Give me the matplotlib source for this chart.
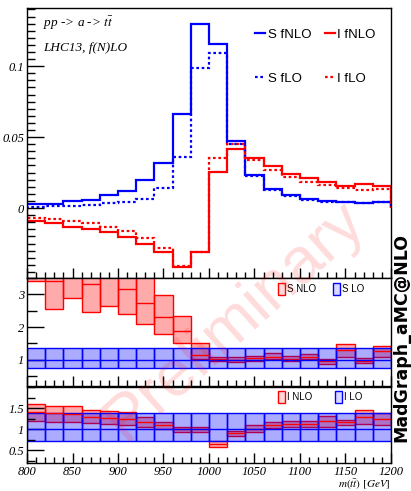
import numpy as np
import matplotlib.pyplot as plt
from matplotlib.patches import Patch
from matplotlib.lines import Line2D
from matplotlib.ticker import MultipleLocator

# m(tt) bins, 20 GeV wide
edges = np.arange(800, 1201, 20)

# top panel: normalised distributions
s_fnlo = [0.0028, 0.0030, 0.0047, 0.0060, 0.0090, 0.0120, 0.0197, 0.0320, 0.0660, 0.1296,
          0.1155, 0.0470, 0.0235, 0.0136, 0.0092, 0.0066, 0.0049, 0.0045, 0.0037, 0.0040]
s_flo = [0.0009, 0.0012, 0.0014, 0.0023, 0.0033, 0.0045, 0.0066, 0.0139, 0.0357, 0.0984,
         0.1094, 0.0455, 0.0225, 0.0127, 0.0087, 0.0060, 0.0045, 0.0042, 0.0037, 0.0040]
i_fnlo = [-0.0092, -0.0103, -0.0131, -0.0146, -0.0171, -0.0207, -0.0254, -0.0312, -0.0418, -0.0312,
          0.0251, 0.0415, 0.0350, 0.0298, 0.0239, 0.0209, 0.0185, 0.0155, 0.0167, 0.0155]
i_flo = [-0.0070, -0.0080, -0.0094, -0.0108, -0.0134, -0.0160, -0.0214, -0.0284, -0.0408, -0.0312,
         0.0350, 0.0455, 0.0338, 0.0268, 0.0220, 0.0185, 0.0162, 0.0139, 0.0127, 0.0132]

# middle panel: S K-factor bands (lo, central, hi)
snlo_lo = [3.40, 2.56, 2.90, 2.47, 2.64, 2.39, 2.10, 1.80, 1.52, 1.02,
           0.95, 0.94, 0.97, 1.03, 0.95, 1.02, 0.87, 1.10, 0.90, 1.10]
snlo_c = [3.60, 3.42, 3.60, 3.31, 3.60, 3.16, 2.74, 2.32, 1.88, 1.15,
          1.02, 1.00, 1.05, 1.10, 1.03, 1.10, 0.95, 1.30, 0.97, 1.27]
snlo_hi = [3.90, 3.80, 4.00, 3.90, 3.90, 3.90, 3.90, 2.98, 2.33, 1.50,
           1.10, 1.08, 1.12, 1.20, 1.12, 1.18, 1.03, 1.47, 1.05, 1.43]
slo_lo = [0.75] * 20
slo_c = [1.0] * 20
slo_hi = [1.35] * 20

# bottom panel: I K-factor bands
inlo_lo = [1.20, 1.18, 1.16, 1.14, 1.12, 1.10, 1.06, 1.00, 0.93, 0.94,
           0.59, 0.85, 0.93, 1.02, 1.06, 1.06, 1.06, 1.10, 1.12, 1.09]
inlo_c = [1.40, 1.38, 1.36, 1.30, 1.27, 1.25, 1.18, 1.10, 1.00, 1.00,
          0.65, 0.90, 1.00, 1.10, 1.13, 1.13, 1.20, 1.16, 1.30, 1.25]
inlo_hi = [1.60, 1.56, 1.56, 1.46, 1.42, 1.40, 1.30, 1.18, 1.06, 1.06,
           0.72, 0.96, 1.09, 1.18, 1.20, 1.20, 1.32, 1.22, 1.46, 1.38]
ilo_lo = [0.73] * 20
ilo_c = [1.0] * 20
ilo_hi = [1.38] * 20

serif = dict(family='Liberation Serif', style='italic')
sans = 'Liberation Sans'
plt.rcParams['mathtext.fontset'] = 'stix'

fig = plt.figure(figsize=(4.11, 4.91), dpi=100)
L, W = 0.0657, 0.8856
ax1 = fig.add_axes([L, 0.4338, W, 0.5499])
ax2 = fig.add_axes([L, 0.2138, W, 0.2200])
ax3 = fig.add_axes([L, 0.0570, W, 0.1548])


def band(ax, lo, c, hi, col):
    lo, c, hi = np.array(lo), np.array(c), np.array(hi)
    ctr = (edges[:-1] + edges[1:]) / 2
    ax.bar(ctr, hi - lo, bottom=lo, width=20, facecolor=col + (0.33,),
           edgecolor=col, linewidth=1.0)
    ax.hlines(c, edges[:-1], edges[1:], color=col, lw=1.0)


def style(ax):
    ax.set_xlim(800, 1200)
    ax.xaxis.set_major_locator(MultipleLocator(50))
    ax.xaxis.set_minor_locator(MultipleLocator(10))
    ax.tick_params(which='both', direction='in', top=False, right=False)
    ax.tick_params(which='major', length=7, width=1)
    ax.tick_params(which='minor', length=4, width=1)
    ax.tick_params(axis='y', pad=2)
    for s in ax.spines.values():
        s.set_linewidth(1.0)
    for lab in ax.get_yticklabels():
        lab.set_fontproperties(serif)
        lab.set_fontsize(9)


blue = (0.0, 0.0, 1.0)
red = (1.0, 0.0, 0.0)
dot = (0, (1.2, 1.2))

# top panel
ax1.stairs(s_fnlo, edges, color=blue, lw=1.6)
ax1.stairs(i_fnlo, edges, color=red, lw=1.6)
ax1.stairs(s_flo, edges, color=blue, lw=1.6, ls=dot)
ax1.stairs(i_flo, edges, color=red, lw=1.6, ls=dot)
ax1.set_ylim(-0.0493, 0.141)
ax1.set_yticks([0, 0.05, 0.1])
ax1.set_yticklabels(['0', '0.05', '0.1'])
ax1.yaxis.set_minor_locator(MultipleLocator(0.005))
ax1.set_xticklabels([])
style(ax1)
ax1.tick_params(axis='y', which='major', length=12)
ax1.tick_params(axis='y', which='minor', length=6)
ax1.text(0.045, 0.93, r'pp -> a -> $t\bar{t}$', transform=ax1.transAxes, fontsize=9.5, **serif)
ax1.text(0.045, 0.84, 'LHC13, f(N)LO', transform=ax1.transAxes, fontsize=9.5, **serif)
ax1.legend(handles=[Line2D([], [], color=blue, lw=1.6),
                    Line2D([], [], color=blue, lw=1.6, ls=dot),
                    Line2D([], [], color=red, lw=1.6),
                    Line2D([], [], color=red, lw=1.6, ls=dot)],
           labels=['S fNLO', 'S fLO', 'I fNLO', 'I fLO'], ncol=2,
           loc='center left', bbox_to_anchor=(0.627, 0.82), frameon=False,
           handlelength=0.76, handletextpad=0.2, columnspacing=1.0, labelspacing=2.4,
           prop=dict(family=sans, size=9.5), borderaxespad=0, borderpad=0)

# middle panel
band(ax2, snlo_lo, snlo_c, snlo_hi, red)
band(ax2, slo_lo, slo_c, slo_hi, blue)
ax2.set_ylim(0.2, 3.5)
ax2.set_yticks([1, 2, 3])
ax2.yaxis.set_minor_locator(MultipleLocator(0.5))
ax2.set_xticklabels([])
style(ax2)
ax2.tick_params(axis='y', which='major', length=12)
ax2.tick_params(axis='y', which='minor', length=7)
ax2.legend(handles=[Patch(facecolor=red + (0.15,), edgecolor=red),
                    Patch(facecolor=blue + (0.15,), edgecolor=blue)],
           labels=['S NLO', 'S LO'], ncol=2, loc='center left',
           bbox_to_anchor=(0.69, 0.90), frameon=False, handlelength=0.72,
           handleheight=1.5, handletextpad=0.2, columnspacing=1.75,
           prop=dict(family=sans, size=7), borderaxespad=0, borderpad=0)

# bottom panel
band(ax3, inlo_lo, inlo_c, inlo_hi, red)
band(ax3, ilo_lo, ilo_c, ilo_hi, blue)
ax3.set_ylim(0.2, 2.0)
ax3.set_yticks([0.5, 1, 1.5])
ax3.set_yticklabels(['0.5', '1', '1.5'])
ax3.yaxis.set_minor_locator(MultipleLocator(0.25))
style(ax3)
ax3.tick_params(axis='y', which='major', length=12)
ax3.tick_params(axis='y', which='minor', length=6)
for lab in ax3.get_xticklabels():
    lab.set_fontproperties(serif)
    lab.set_fontsize(9)
ax3.tick_params(axis='x', pad=2)
ax3.set_xlabel(r'$m(t\bar{t})$ $[GeV]$', fontsize=8, **serif)
ax3.xaxis.set_label_coords(1.0, -0.19)
ax3.xaxis.label.set_horizontalalignment('right')
ax3.legend(handles=[Patch(facecolor=red + (0.15,), edgecolor=red),
                    Patch(facecolor=blue + (0.15,), edgecolor=blue)],
           labels=['I NLO', 'I LO'], ncol=2, loc='center left',
           bbox_to_anchor=(0.69, 0.87), frameon=False, handlelength=0.72,
           handleheight=1.5, handletextpad=0.2, columnspacing=2.3,
           prop=dict(family=sans, size=7), borderaxespad=0, borderpad=0)

fig.text(0.977, 0.312, 'MadGraph_aMC@NLO', rotation=90, ha='center', va='center',
         fontsize=12.5, fontweight='bold', family='DejaVu Sans')
fig.text(0.572, 0.348, 'Preliminary', rotation=42, ha='center', va='center',
         fontsize=47, color='red', alpha=0.14, family='Liberation Sans', zorder=10)

fig.savefig('out.png', dpi=100)
